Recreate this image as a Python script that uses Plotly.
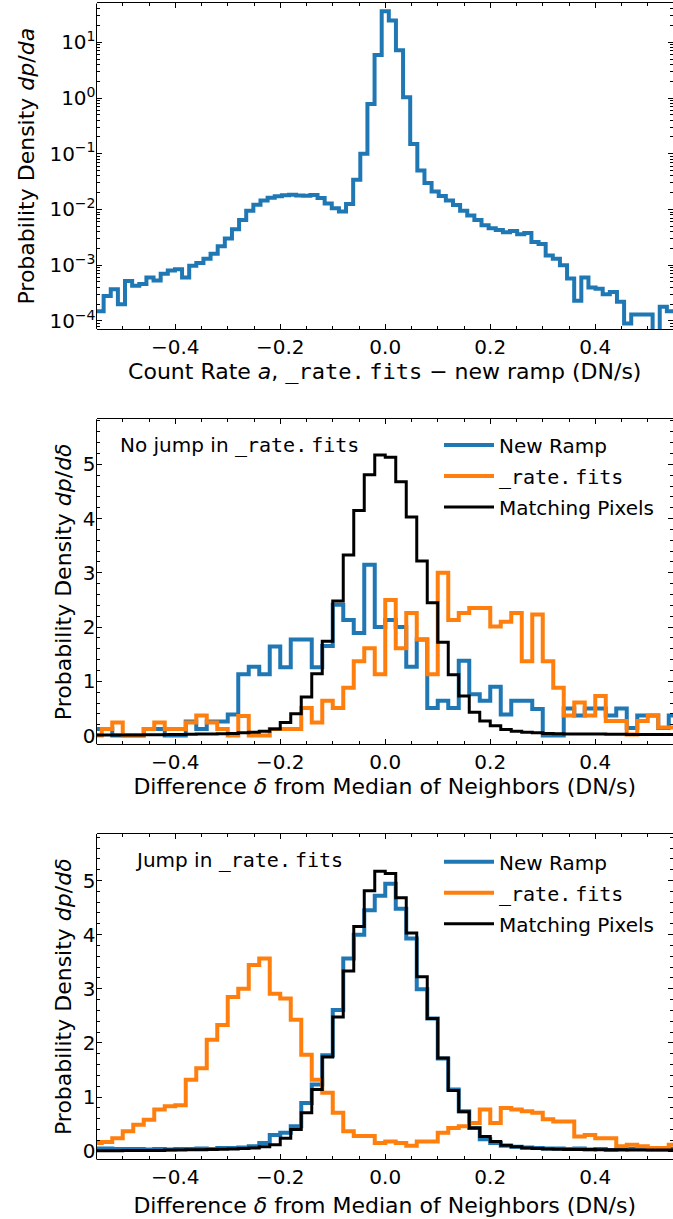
import numpy as np
import plotly.graph_objects as go

# ---------------- DATA ----------------
# Top panel: histogram of count-rate difference (_rate.fits - new ramp), log density
rate_bin_min = -0.55
rate_bin_max = 0.55
rate_nbins = 81
rate_density = [
    1.5e-4, 2.8e-4, 3.7e-4, 2.0e-4, 5.2e-4, 4.3e-4, 4.6e-4, 6.0e-4, 5.3e-4, 7.0e-4,
    8.0e-4, 8.5e-4, 6.0e-4, 9.8e-4, 1.1e-3, 1.3e-3, 1.6e-3, 2.2e-3, 3.0e-3, 4.4e-3,
    6.5e-3, 9.5e-3, 0.0122, 0.0145, 0.0162, 0.0172, 0.018, 0.0183, 0.0178, 0.0176,
    0.0182, 0.016, 0.0128, 0.0105, 0.0092, 0.0125, 0.034, 0.1, 0.78, 5.9,
    36.0,
    24.6, 7.2, 1.03, 0.15, 0.05, 0.03, 0.021, 0.0175, 0.0145, 0.012,
    0.0095, 0.0078, 0.0065, 0.0052, 0.0046, 0.0043, 0.0039, 0.0041, 0.0036, 0.0038,
    0.0026, 0.0024, 0.0015, 0.0013, 0.0010, 0.00058, 0.00023, 0.0006, 0.0004, 0.00038,
    0.0003, 0.00033, 0.00022, 0.00009, 0.00013, 0.00013, 0.00013, 1e-5, 0.00018, 0.00015,
]

# Middle / bottom panels: difference from median of neighbours, bins of 0.02
delta_bin_min = -0.56
delta_bin_width = 0.02
delta_nbins = 56

matching_pixels = [
    0.01, 0.01, 0.01, 0.012, 0.012, 0.015, 0.015, 0.02, 0.02, 0.025,
    0.028, 0.03, 0.035, 0.04, 0.05, 0.06, 0.08, 0.12, 0.24, 0.40,
    0.71, 1.14, 1.74, 2.48, 3.33, 4.15, 4.81, 5.17, 5.13, 4.68,
    4.03, 3.22, 2.45, 1.72, 1.12, 0.73, 0.43, 0.27, 0.18, 0.11,
    0.08, 0.06, 0.05, 0.04, 0.035, 0.03, 0.03, 0.03, 0.028, 0.025,
    0.025, 0.02, 0.02, 0.02, 0.02, 0.02,
]

nojump_new_ramp = [
    0.12, 0.12, 0.0, 0.0, 0.0, 0.12, 0.12, 0.0, 0.0, 0.26,
    0.12, 0.26, 0.26, 0.39, 1.13, 1.27, 1.13, 1.64, 1.26, 1.77,
    1.77, 1.26, 1.65, 2.41, 2.13, 1.89, 3.15, 2.0, 2.13, 2.0,
    1.27, 1.77, 0.51, 0.64, 0.51, 1.38, 0.76, 0.64, 0.9, 0.39,
    0.64, 0.64, 0.49, 0.0, 0.0, 0.5, 0.37, 0.5, 0.5, 0.37,
    0.5, 0.14, 0.37, 0.37, 0.14, 0.37,
]

nojump_rate_fits = [
    0.0, 0.12, 0.24, 0.0, 0.0, 0.12, 0.24, 0.12, 0.12, 0.24,
    0.37, 0.24, 0.12, 0.0, 0.36, 0.0, 0.0, 0.12, 0.12, 0.12,
    0.51, 0.24, 0.64, 0.51, 0.88, 1.37, 1.61, 1.13, 2.5, 1.61,
    2.26, 1.77, 1.13, 3.0, 2.13, 2.26, 2.35, 2.35, 2.01, 2.1,
    2.26, 1.37, 2.23, 1.37, 0.88, 0.37, 0.61, 0.37, 0.73, 0.27,
    0.27, 0.02, 0.27, 0.37, 0.15, 0.15,
]

jump_new_ramp = [
    0.05, 0.05, 0.04, 0.04, 0.04, 0.03, 0.04, 0.03, 0.04, 0.04,
    0.05, 0.04, 0.06, 0.06, 0.07, 0.09, 0.15, 0.30, 0.34, 0.46,
    0.89, 1.23, 1.77, 2.61, 3.56, 4.0, 4.45, 4.72, 4.94, 4.48,
    3.93, 2.99, 2.45, 1.71, 1.14, 0.74, 0.43, 0.22, 0.15, 0.10,
    0.08, 0.07, 0.06, 0.05, 0.05, 0.04, 0.05, 0.03, 0.04, 0.02,
    0.03, 0.04, 0.04, 0.03, 0.03, 0.04,
]

jump_rate_fits = [
    0.15, 0.17, 0.24, 0.37, 0.49, 0.58, 0.77, 0.83, 0.85, 1.32,
    1.53, 2.06, 2.33, 2.85, 3.0, 3.44, 3.56, 2.91, 2.82, 2.43,
    1.78, 1.32, 1.08, 0.71, 0.37, 0.28, 0.28, 0.15, 0.18, 0.15,
    0.10, 0.18, 0.18, 0.34, 0.43, 0.46, 0.52, 0.77, 0.52, 0.80,
    0.77, 0.74, 0.71, 0.59, 0.55, 0.55, 0.27, 0.30, 0.24, 0.24,
    0.09, 0.12, 0.09, 0.06, 0.06, 0.12,
]

log_tick_exponents = [-4, -3, -2, -1, 0, 1]
series_names = ["New Ramp", "_rate.fits", "Matching Pixels"]

# ---------------- STYLE ----------------
FONT = "DejaVu Sans"
MONO = "DejaVu Sans Mono"
BLUE, ORANGE, BLACK = "#1f77b4", "#ff7f0e", "#000000"
W, H = 673, 1219
TICK_SIZE = 20
TITLE_SIZE = 22
TEXT_SIZE = 20


def mono(s):
    return f'<span style="font-family:{MONO}">{s}</span>'


def fits_name():
    # mathtt rendering of "_rate.fits" (with small gap after the dot)
    return mono("_rate.") + "\u2009" + mono("fits")


def steps(edges, vals):
    return list(edges), list(vals) + [vals[-1]]


rate_edges = np.linspace(rate_bin_min, rate_bin_max, rate_nbins + 1)
delta_edges = delta_bin_min + delta_bin_width * np.arange(delta_nbins + 1)

fig = go.Figure()

# top panel
x, y = steps(rate_edges, rate_density)
fig.add_trace(go.Scatter(x=x, y=y, mode="lines", line=dict(color=BLUE, width=4, shape="hv"),
                         showlegend=False, xaxis="x", yaxis="y"))

legend_labels = [series_names[0], fits_name(), series_names[2]]
for pi, (axx, axy, leg, blue, orange) in enumerate([
        ("x2", "y2", "legend", nojump_new_ramp, nojump_rate_fits),
        ("x3", "y3", "legend2", jump_new_ramp, jump_rate_fits)]):
    for si, (vals, col, w, name) in enumerate([(blue, BLUE, 4, legend_labels[0]),
                                               (orange, ORANGE, 4, legend_labels[1]),
                                               (matching_pixels, BLACK, 3, legend_labels[2])]):
        x, y = steps(delta_edges, vals)
        fig.add_trace(go.Scatter(x=x, y=y, mode="lines", name=name,
                                 legendgroup=f"p{pi}s{si}",
                                 line=dict(color=col, width=w, shape="hv"),
                                 xaxis=axx, yaxis=axy, legend=leg))

x_left, x_right = 96.5, 673.0
px_per_unit = 525.0
xr = [-0.55, -0.55 + (x_right - x_left) / px_per_unit]
xdom = [x_left / W, x_right / W]


def ydom(top, bottom):
    return [1 - bottom / H, 1 - top / H]


panel_px = [(3.5, 330.0), (420.7, 746.7), (836.7, 1163.3)]

tickfont = dict(family=FONT, size=TICK_SIZE, color="black")
titlefont = dict(family=FONT, size=TITLE_SIZE, color="black")
common = dict(showline=True, linecolor="black", linewidth=1, mirror="ticks",
              ticks="inside", ticklen=5, tickwidth=1, tickcolor="black",
              showgrid=False, zeroline=False, tickfont=tickfont)
xcommon = dict(common, range=xr, domain=xdom, tick0=0, dtick=0.2, tickformat=".1f",
               minor=dict(tick0=0, dtick=0.05, ticks="inside", ticklen=3, tickcolor="black",
                          showgrid=False))
# y axes: the right-hand spine lies just outside the picture, so only the
# mirrored ticks show there; the left spine is drawn as a frame line below.
ycommon = dict(common, showline=False)
ylin = dict(ycommon, tick0=0, dtick=1,
            minor=dict(tick0=0, dtick=0.2, ticks="inside", ticklen=3, tickcolor="black",
                       showgrid=False))

minor_log = [m * 10.0 ** e for e in range(-5, 2) for m in range(2, 10)]

xt_rate = "Count Rate <i>a</i>, " + fits_name() + " \u2212 new ramp (DN/s)"
xt_delta = "Difference <i>\u03b4</i> from Median of Neighbors (DN/s)"
yt_rate = "Probability Density <i>dp</i>/<i>da</i>"
yt_delta = "Probability Density <i>dp</i>/<i>d\u03b4</i>"

legend_style = dict(xanchor="left", yanchor="top", bgcolor="rgba(0,0,0,0)", borderwidth=0,
                    itemwidth=50, tracegroupgap=2, traceorder="grouped",
                    font=dict(family=FONT, size=TEXT_SIZE, color="black"))

frame_lines = [dict(type="line", xref="paper", yref="paper", x0=x_left / W, x1=x_left / W,
                    y0=ydom(t, b)[0], y1=ydom(t, b)[1], line=dict(color="black", width=1),
                    layer="above") for t, b in panel_px]

fig.update_layout(
    width=W, height=H, autosize=False,
    margin=dict(l=0, r=0, t=0, b=0),
    paper_bgcolor="white", plot_bgcolor="white",
    font=dict(family=FONT, size=TEXT_SIZE, color="black"),
    xaxis=dict(xcommon, anchor="y", title=dict(text=xt_rate, font=titlefont, standoff=4)),
    yaxis=dict(ycommon, type="log", domain=ydom(*panel_px[0]), anchor="x",
               range=[-4.143, 1.696],
               tickvals=[10.0 ** e for e in log_tick_exponents],
               ticktext=[f"10<sup>{str(e).replace('-', chr(0x2212))}</sup>" for e in log_tick_exponents],
               minor=dict(tickvals=minor_log, ticks="inside", ticklen=3, tickcolor="black",
                          showgrid=False),
               title=dict(text=yt_rate, font=titlefont, standoff=8)),
    xaxis2=dict(xcommon, anchor="y2", title=dict(text=xt_delta, font=titlefont, standoff=4)),
    yaxis2=dict(ylin, domain=ydom(*panel_px[1]), anchor="x2", range=[-0.16, 5.83],
                title=dict(text=yt_delta, font=titlefont, standoff=5)),
    xaxis3=dict(xcommon, anchor="y3", title=dict(text=xt_delta, font=titlefont, standoff=9)),
    yaxis3=dict(ylin, domain=ydom(*panel_px[2]), anchor="x3", range=[-0.153, 5.86],
                title=dict(text=yt_delta, font=titlefont, standoff=5)),
    legend=dict(legend_style, x=439 / W, y=1 - 427 / H),
    legend2=dict(legend_style, x=439 / W, y=1 - 845 / H),
    shapes=frame_lines,
    annotations=[
        dict(text="No jump in " + fits_name(), x=118 / W, y=1 - 446 / H,
             xref="paper", yref="paper", xanchor="left", yanchor="middle",
             showarrow=False, font=dict(family=FONT, size=TEXT_SIZE, color="black")),
        dict(text="Jump in " + fits_name(), x=133 / W, y=1 - 863 / H,
             xref="paper", yref="paper", xanchor="left", yanchor="middle",
             showarrow=False, font=dict(family=FONT, size=TEXT_SIZE, color="black")),
    ],
)

fig.write_html("out.html")
